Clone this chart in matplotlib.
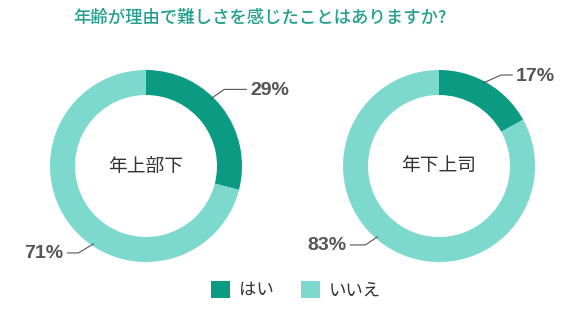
import numpy as np
import matplotlib.pyplot as plt

plt.rcParams['font.family'] = ['Noto Sans CJK JP', 'DejaVu Sans']

title = "年齢が理由で難しさを感じたことはありますか?"
answers = ["はい", "いいえ"]
groups = ["年上部下", "年下上司"]
shares = [[29, 71], [17, 83]]

colors = ["#0b9a82", "#7dd8cd"]
# layout per donut: centre (px) and, for each wedge label,
# anchor angle on the ring (deg), elbow offset (px), horizontal run (px)
centers = [(146, 160), (439, 160)]
leaders = [
    [(46, (13, 9), 22), (236, (-15, -9), 11)],
    [(62, (18, 8), 11), (229, (-12, -8), 15)],
]

fig = plt.figure(figsize=(5.8, 3.26), dpi=100)
ax = fig.add_axes([0, 0, 1, 1])

R = 96
wedges = None
for (cx, cy), name, vals, lead in zip(centers, groups, shares, leaders):
    wedges, _ = ax.pie(vals, colors=colors, startangle=90, counterclock=False,
                       center=(cx, cy), radius=R, frame=True,
                       wedgeprops=dict(width=25, linewidth=0))
    ax.text(cx, cy, name, ha="center", va="center", fontsize=13.5, color="#333333")
    for v, (a, (ex, ey), run) in zip(vals, lead):
        r = R - 2
        x0 = cx + r * np.cos(np.radians(a))
        y0 = cy + r * np.sin(np.radians(a))
        side = 1 if ex > 0 else -1
        x1, y1 = x0 + ex, y0 + ey
        x2 = x1 + side * run
        ax.plot([x0, x1, x2], [y0, y1, y1], color="#555555", lw=0.8)
        ax.text(x2 + side * 4, y1 - 1, f"{v}%", ha="left" if side > 0 else "right",
                va="center", fontsize=14, fontweight="bold", color="#555555",
                family=["Liberation Sans", "DejaVu Sans"])

ax.set_xlim(0, 580)
ax.set_ylim(0, 326)
ax.set_aspect("equal")
ax.set_axis_off()

fig.text(260 / 580, 1 - 18 / 326, title, ha="center", va="center", fontsize=12.5,
         color="#22a08d", fontweight="medium")

leg = fig.legend(wedges, answers, loc="center", bbox_to_anchor=(296 / 580, 1 - 290 / 326),
                 ncol=2, frameon=False, fontsize=12.5, handlelength=1.1,
                 handleheight=1.1, handletextpad=0.5, columnspacing=1.6)
for t in leg.get_texts():
    t.set_color("#333333")

fig.savefig("out.png", dpi=100)
